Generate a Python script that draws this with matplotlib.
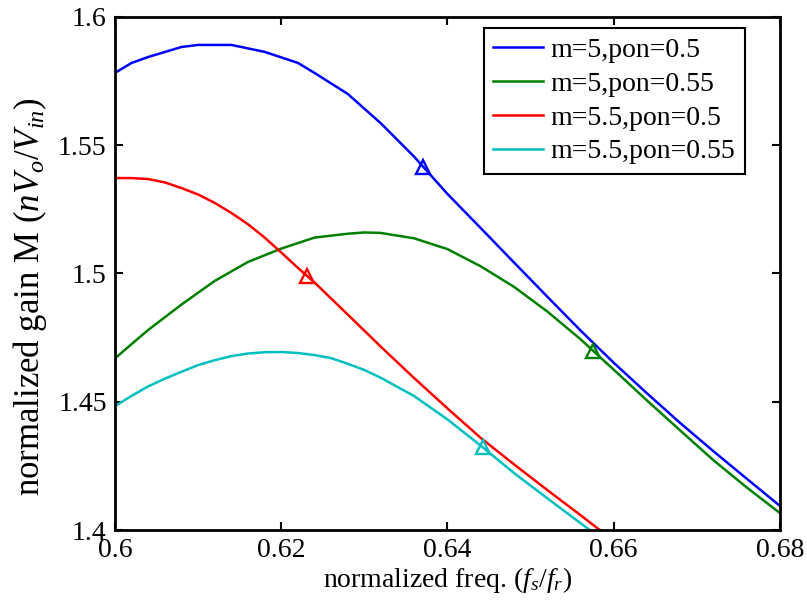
import numpy as np
import matplotlib
matplotlib.use('Agg')
import matplotlib.pyplot as plt

plt.rcParams['font.family'] = ['Liberation Serif', 'DejaVu Serif']
plt.rcParams['mathtext.fontset'] = 'custom'
plt.rcParams['mathtext.rm'] = 'Liberation Serif'
plt.rcParams['mathtext.it'] = 'Liberation Serif:italic'

# m=5, pon=0.5
x_b = [0.600, 0.602, 0.604, 0.608, 0.610, 0.614, 0.618, 0.622, 0.624, 0.628, 0.632, 0.636,
       0.640, 0.644, 0.648, 0.652, 0.656, 0.660, 0.664, 0.668, 0.672, 0.676, 0.680]
y_b = [1.5782, 1.5821, 1.5844, 1.5883, 1.5891, 1.5891, 1.5864, 1.5821, 1.5782, 1.5700, 1.5585, 1.5455,
       1.5310, 1.5177, 1.5043, 1.4910, 1.4778, 1.4652, 1.4533, 1.4417, 1.4307, 1.4200, 1.4094]
# m=5, pon=0.55
x_g = [0.600, 0.602, 0.604, 0.608, 0.612, 0.616, 0.620, 0.624, 0.628, 0.630, 0.632, 0.636,
       0.640, 0.644, 0.648, 0.652, 0.656, 0.660, 0.664, 0.668, 0.672, 0.676, 0.680]
y_g = [1.4669, 1.4725, 1.4780, 1.4879, 1.4971, 1.5045, 1.5097, 1.5140, 1.5155, 1.5160, 1.5158, 1.5137,
       1.5095, 1.5028, 1.4948, 1.4852, 1.4744, 1.4625, 1.4505, 1.4388, 1.4272, 1.4166, 1.4066]
# m=5.5, pon=0.5
x_r = [0.600, 0.602, 0.604, 0.606, 0.608, 0.610, 0.612, 0.614, 0.616, 0.618, 0.620, 0.622,
       0.624, 0.628, 0.632, 0.636, 0.640, 0.644, 0.648, 0.652, 0.656, 0.658, 0.660]
y_r = [1.5372, 1.5372, 1.5368, 1.5355, 1.5333, 1.5308, 1.5275, 1.5236, 1.5192, 1.5140, 1.5082, 1.5022,
       1.4965, 1.4840, 1.4714, 1.4592, 1.4474, 1.4359, 1.4256, 1.4156, 1.4058, 1.4008, 1.3960]
# m=5.5, pon=0.55
x_c = [0.600, 0.602, 0.604, 0.606, 0.608, 0.610, 0.612, 0.614, 0.616, 0.618, 0.620, 0.622,
       0.624, 0.626, 0.628, 0.630, 0.632, 0.636, 0.640, 0.644, 0.648, 0.652, 0.656, 0.658]
y_c = [1.4483, 1.4523, 1.4560, 1.4590, 1.4617, 1.4643, 1.4662, 1.4678, 1.4688, 1.4693, 1.4694, 1.4690,
       1.4682, 1.4670, 1.4648, 1.4624, 1.4593, 1.4522, 1.4431, 1.4329, 1.4222, 1.4124, 1.4027, 1.3978]

labels = ['m=5,pon=0.5', 'm=5,pon=0.55', 'm=5.5,pon=0.5', 'm=5.5,pon=0.55']
colors = ['#0000ff', '#008000', '#ff0000', '#00bfbf']
# triangle markers
mark_x = [0.6371, 0.6575, 0.6231, 0.6443]
mark_y = [1.5415, 1.4696, 1.4992, 1.4322]

xticks = [0.6, 0.62, 0.64, 0.66, 0.68]
xtick_labels = ['0.6', '0.62', '0.64', '0.66', '0.68']
yticks = [1.4, 1.45, 1.5, 1.55, 1.6]
ytick_labels = ['1.4', '1.45', '1.5', '1.55', '1.6']

fig = plt.figure(figsize=(8.07, 6.04), dpi=100)
ax = fig.add_axes([0.1425, 0.1225, 0.824, 0.8494])

series = [(x_b, y_b), (x_g, y_g), (x_r, y_r), (x_c, y_c)]
for (xs, ys), lab, col in zip(series, labels, colors):
    ax.plot(xs, ys, color=col, lw=1.8, label=lab)
for mx, my, col in zip(mark_x, mark_y, colors):
    ax.plot(mx, my, marker='^', ms=10, mfc='none', mec=col, mew=1.7, ls='none')

ax.set_xlim(0.6, 0.68)
ax.set_ylim(1.4, 1.6)
ax.set_xticks(xticks)
ax.set_xticklabels(xtick_labels)
ax.set_yticks(yticks)
ax.set_yticklabels(ytick_labels)
ax.tick_params(direction='in', length=6, width=1.5, top=True, right=True, labelsize=20, pad=6)
for s in ax.spines.values():
    s.set_linewidth(2)

ax.set_xlabel('normalized freq. ($f_s/f_r$)', fontsize=20, labelpad=1)
ax.set_ylabel('normalized gain M ($nV_o/V_{in}$)', fontsize=25)
ax.yaxis.set_label_coords(-0.10, 0.455)

leg = ax.legend(loc='upper right', bbox_to_anchor=(0.947, 0.9786), fontsize=20, fancybox=False,
                edgecolor='k', framealpha=1, handlelength=1.8, handletextpad=0.25,
                borderpad=0.35, labelspacing=0.3, borderaxespad=0)
leg.get_frame().set_linewidth(1.5)

plt.savefig('out.png', dpi=100)
plt.close('all')
